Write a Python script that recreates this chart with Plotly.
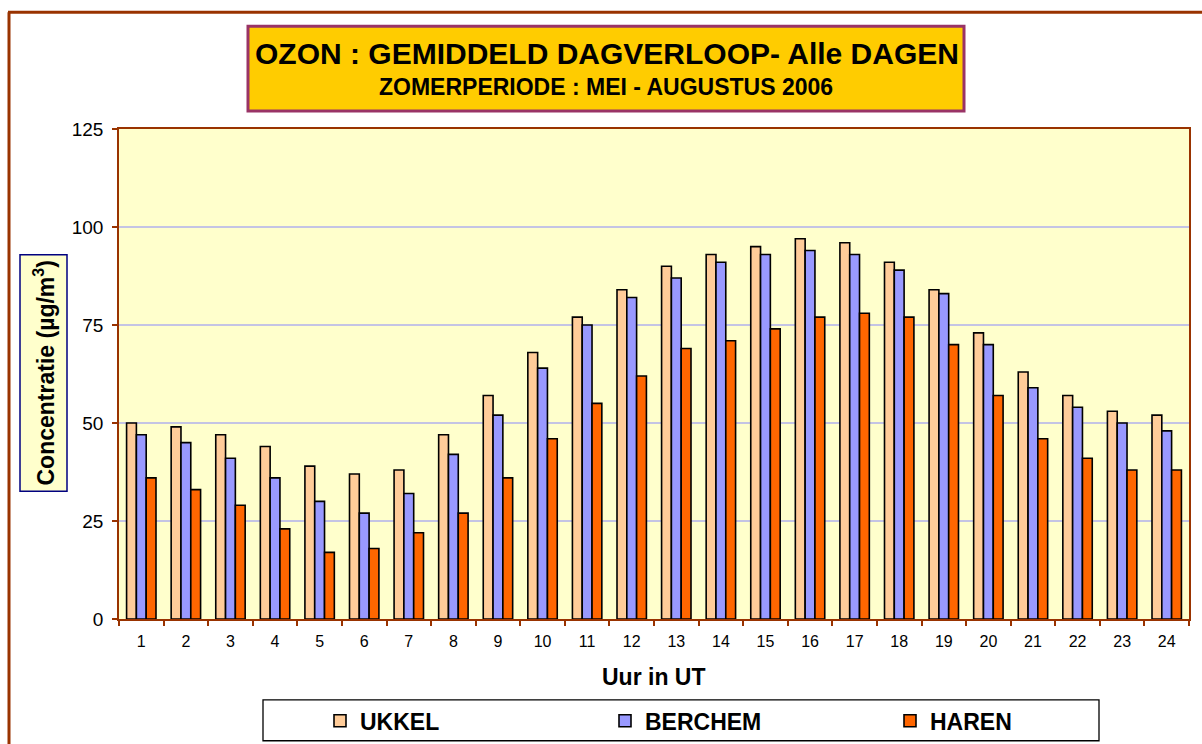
import plotly.graph_objects as go

hours = [str(h) for h in range(1, 25)]
ukkel = [50, 49, 47, 44, 39, 37, 38, 47, 57, 68, 77, 84, 90, 93, 95, 97, 96, 91, 84, 73, 63, 57, 53, 52]
berchem = [47, 45, 41, 36, 30, 27, 32, 42, 52, 64, 75, 82, 87, 91, 93, 94, 93, 89, 83, 70, 59, 54, 50, 48]
haren = [36, 33, 29, 23, 17, 18, 22, 27, 36, 46, 55, 62, 69, 71, 74, 77, 78, 77, 70, 57, 46, 41, 38, 38]
series_names = ["UKKEL", "BERCHEM", "HAREN"]
series_colors = ["#FFCC99", "#9999FF", "#FF6600"]
y_ticks = [0, 25, 50, 75, 100, 125]

SY = 754 / 744  # vertical correction observed in the renderer
W, H = 1202, 754
# plot area in reference (window) coordinates
L, R, T0, B0 = 119, 1189, 127, 618
T, B = T0 * SY, B0 * SY
FONT = "Liberation Sans, Arial, sans-serif"
BROWN = "#993300"


def px(X):
    return (X - L) / (R - L)


def py(Y):
    return (B - Y * SY) / (B - T)


fig = go.Figure()
for name, vals, col in zip(series_names, [ukkel, berchem, haren], series_colors):
    fig.add_trace(go.Bar(
        x=hours, y=vals, name=name,
        marker=dict(color=col, line=dict(color="black", width=1.6)),
    ))

shapes = [
    # outer chart border (clipped by window)
    dict(type="line", xref="paper", yref="paper", x0=px(9), x1=px(9), y0=py(10), y1=py(770),
         line=dict(color=BROWN, width=3)),
    dict(type="line", xref="paper", yref="paper", x0=px(8), x1=px(1215), y0=py(10), y1=py(10),
         line=dict(color=BROWN, width=3)),
    # title box
    dict(type="rect", xref="paper", yref="paper", x0=px(248), x1=px(964), y0=py(24), y1=py(109),
         fillcolor="#FFCC00", line=dict(color="#993366", width=3)),
    # y-title box
    dict(type="rect", xref="paper", yref="paper", x0=px(20), x1=px(67), y0=py(253), y1=py(490),
         fillcolor="#FFFFCC", line=dict(color="#000080", width=1.5)),
    # legend box
    dict(type="rect", xref="paper", yref="paper", x0=px(263), x1=px(1099), y0=py(699), y1=py(740),
         fillcolor="white", line=dict(color="black", width=1.3)),
]

annotations = [
    dict(text="<b>OZON : GEMIDDELD DAGVERLOOP- Alle DAGEN</b>", xref="paper", yref="paper",
         x=px(607), y=py(51), showarrow=False, xanchor="center", yanchor="middle",
         font=dict(family=FONT, size=30, color="black")),
    dict(text="<b>ZOMERPERIODE : MEI - AUGUSTUS 2006</b>", xref="paper", yref="paper",
         x=px(606), y=py(85), showarrow=False, xanchor="center", yanchor="middle",
         font=dict(family=FONT, size=23, color="black")),
    dict(text="<b>Concentratie (µg/m<sup>3</sup>)</b>", xref="paper", yref="paper",
         x=px(44), y=py(372), showarrow=False, textangle=-90, xanchor="center", yanchor="middle",
         font=dict(family=FONT, size=23, color="black")),
    dict(text="<b>Uur in UT</b>", xref="paper", yref="paper",
         x=px(654), y=py(676), showarrow=False, xanchor="center", yanchor="middle",
         font=dict(family=FONT, size=23, color="black")),
]

fig.update_layout(
    width=W, height=H,
    margin=dict(l=L, r=W - R, t=T, b=H - B, pad=0),
    paper_bgcolor="white",
    plot_bgcolor="#FFFFCC",
    barmode="group", bargap=0.34, bargroupgap=0,
    font=dict(family=FONT, color="black"),
    shapes=shapes,
    annotations=annotations,
    showlegend=True,
    legend=dict(orientation="h", x=px(320), y=py(720), xanchor="left", yanchor="middle",
                bgcolor="rgba(0,0,0,0)", borderwidth=0,
                font=dict(family=FONT, size=23, color="black", weight="bold"),
                entrywidth=240, entrywidthmode="pixels", traceorder="normal"),
)

fig.update_xaxes(
    type="category", showline=True, linecolor=BROWN, linewidth=1.5, mirror=True,
    ticks="outside", tickson="boundaries", ticklen=5, tickcolor=BROWN, tickwidth=1.5,
    ticklabelstandoff=7,
    tickfont=dict(family=FONT, size=16, color="black"), showgrid=False,
)
fig.update_yaxes(
    range=[0, 125], tickvals=y_ticks, showline=True, linecolor=BROWN, linewidth=1.5, mirror=True,
    ticks="outside", ticklen=5, tickcolor=BROWN, tickwidth=1.5,
    ticklabelstandoff=5,
    tickfont=dict(family=FONT, size=19, color="black"),
    showgrid=True, gridcolor="#C4C4E4", gridwidth=1.5, zeroline=False,
)

fig.write_html("out.html", config={"displayModeBar": False},
               post_script="document.body.style.margin='0';document.body.style.overflow='hidden';")
